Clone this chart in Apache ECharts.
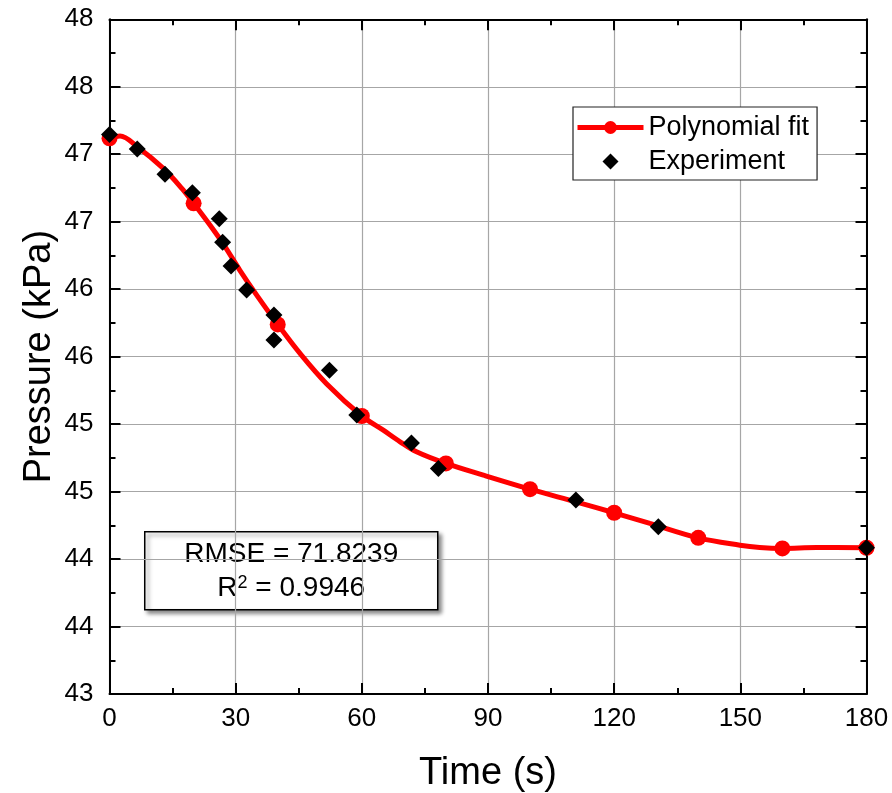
<!DOCTYPE html>
<html>
<head>
<meta charset="utf-8">
<script src="https://cdn.jsdelivr.net/npm/echarts@6/dist/echarts.min.js"></script>
<style>
html,body{margin:0;padding:0;background:#fff;}
#chart{width:892px;height:793px;}
</style>
</head>
<body>
<div id="chart"></div>
<script>
// Fitted curve (time s, pressure kPa)
var fitTimes = [0, 2.5, 6.6, 12.8, 17.2, 20, 24.7, 27.5, 31, 35, 40, 45.3, 51.6, 60, 65.1, 69.1, 73, 80, 88.9, 100, 111.1, 120, 128.5, 140, 149.9, 154.6, 160, 168.1, 180];
var fitValues = [47.118, 47.135, 47.056, 46.895, 46.747, 46.636, 46.44, 46.314, 46.14, 45.956, 45.739, 45.524, 45.30, 45.06, 44.955, 44.869, 44.795, 44.709, 44.622, 44.518, 44.422, 44.343, 44.264, 44.157, 44.103, 44.086, 44.079, 44.086, 44.084];
// Times where the fit curve shows a marker
var fitMarkerTimes = [0, 20, 40, 60, 80, 100, 120, 140, 160, 180];
// Experimental points
var expTimes = [0, 6.6, 13.2, 19.7, 26.1, 26.9, 28.9, 32.6, 39.1, 39.1, 52.3, 58.8, 71.8, 78.2, 110.9, 130.5, 180];
var expValues = [47.147, 47.039, 46.851, 46.715, 46.522, 46.347, 46.171, 45.993, 45.808, 45.623, 45.400, 45.067, 44.861, 44.672, 44.437, 44.239, 44.083];
// Axis settings
var xTicks = [0, 30, 60, 90, 120, 150, 180];
var yMin = 43, yMax = 48, yStep = 0.5;
var xTitle = 'Time (s)';
var yTitle = 'Pressure (kPa)';
var statLine1 = 'RMSE = 71.8239';
var statR2 = '0.9946';

var FONT = '"Liberation Sans", Arial, sans-serif';

var fitData = fitTimes.map(function (t, i) {
  var item = { value: [t, fitValues[i]] };
  if (fitMarkerTimes.indexOf(t) < 0) item.symbol = 'none';
  return item;
});
var expData = expTimes.map(function (t, i) { return [t, expValues[i]]; });

var chart = echarts.init(document.getElementById('chart'), null, { renderer: 'canvas' });

var axisLineStyle = { color: '#000', width: 2 };
var xStep = xTicks[1] - xTicks[0];

var option = {
  backgroundColor: '#fff',
  animation: false,
  grid: { left: 109.5, right: 25.5, top: 19.3, bottom: 99, containLabel: false, outerBoundsMode: 'none' },
  xAxis: [{
    type: 'value', min: xTicks[0], max: xTicks[xTicks.length - 1], interval: xStep,
    position: 'bottom',
    axisLine: { show: true, onZero: false, lineStyle: axisLineStyle },
    axisTick: { show: true, inside: true, length: 11, lineStyle: { color: '#000', width: 2 } },
    minorTick: { show: true, splitNumber: 2, length: 6, lineStyle: { color: '#000', width: 2 } },
    splitLine: { show: true, lineStyle: { color: '#a6a6a6', width: 1.2 } },
    axisLabel: { fontSize: 26, color: '#000', margin: 12, fontFamily: FONT },
    name: xTitle, nameLocation: 'middle', nameGap: 61, nameMoveOverlap: false,
    nameTextStyle: { fontSize: 38, color: '#000', fontFamily: FONT }
  }, {
    type: 'value', min: xTicks[0], max: xTicks[xTicks.length - 1], interval: xStep,
    position: 'top',
    axisLine: { show: true, onZero: false, lineStyle: axisLineStyle },
    axisTick: { show: true, inside: true, length: 11, lineStyle: { color: '#000', width: 2 } },
    minorTick: { show: true, splitNumber: 2, length: 6, lineStyle: { color: '#000', width: 2 } },
    splitLine: { show: false },
    axisLabel: { show: false }
  }],
  yAxis: [{
    type: 'value', min: yMin, max: yMax, interval: yStep,
    position: 'left',
    axisLine: { show: true, onZero: false, lineStyle: axisLineStyle },
    axisTick: { show: true, inside: true, length: 11, lineStyle: { color: '#000', width: 2 } },
    minorTick: { show: true, splitNumber: 2, length: 6, lineStyle: { color: '#000', width: 2 } },
    splitLine: { show: true, lineStyle: { color: '#a6a6a6', width: 1.2 } },
    axisLabel: { fontSize: 26, color: '#000', margin: 16, fontFamily: FONT,
      formatter: function (v) { return String(Math.round(v)); } },
    name: yTitle, nameLocation: 'middle', nameGap: 51, nameRotate: 90, nameMoveOverlap: false,
    nameTextStyle: { fontSize: 38, color: '#000', fontFamily: FONT }
  }, {
    type: 'value', min: yMin, max: yMax, interval: yStep,
    position: 'right',
    axisLine: { show: true, onZero: false, lineStyle: axisLineStyle },
    axisTick: { show: true, inside: true, length: 11, lineStyle: { color: '#000', width: 2 } },
    minorTick: { show: true, splitNumber: 2, length: 6, lineStyle: { color: '#000', width: 2 } },
    splitLine: { show: false },
    axisLabel: { show: false }
  }],
  legend: {
    orient: 'vertical',
    left: 573, top: 107,
    padding: [7, 8, 5, 2],
    itemGap: 7,
    itemWidth: 66, itemHeight: 16,
    symbolKeepAspect: true,
    backgroundColor: '#fff',
    borderColor: '#222', borderWidth: 1.2,
    textStyle: { fontSize: 27, color: '#000', fontFamily: FONT, padding: [0, 0, 0, 0] },
    data: [
      { name: 'Polynomial fit', lineStyle: { width: 5, color: '#ff0000' } },
      { name: 'Experiment', icon: 'path://M0,-1L1,0L0,1L-1,0Z', itemStyle: { color: '#000', opacity: 1 } }
    ]
  },
  series: [{
    name: 'Polynomial fit',
    type: 'line',
    xAxisIndex: 0, yAxisIndex: 0,
    data: fitData,
    smooth: 0.35,
    symbol: 'circle',
    symbolSize: 16,
    showAllSymbol: true,
    lineStyle: { color: '#ff0000', width: 5 },
    itemStyle: { color: '#ff0000', opacity: 1 },
    z: 2
  }, {
    name: 'Experiment',
    type: 'scatter',
    xAxisIndex: 0, yAxisIndex: 0,
    data: expData,
    symbol: 'diamond',
    symbolSize: [17, 17],
    itemStyle: { color: '#000', opacity: 1 },
    z: 3
  }],
  graphic: [{
    type: 'group',
    left: 144, top: 531,
    children: [{
      type: 'rect',
      shape: { x: 0, y: 0, width: 293, height: 78 },
      style: { fill: '#fff', stroke: '#000', lineWidth: 1.5,
        shadowBlur: 4, shadowOffsetX: 3, shadowOffsetY: 3, shadowColor: 'rgba(0,0,0,0.45)' }
    }, {
      type: 'text',
      x: 146.5, y: 23,
      style: { text: statLine1, fontSize: 28, fill: '#000', fontFamily: FONT,
        align: 'center', verticalAlign: 'middle' }
    }, {
      type: 'text',
      x: 146.5, y: 57,
      style: {
        text: '{a|R}{s|2}{a| = ' + statR2 + '}',
        align: 'center', verticalAlign: 'middle',
        rich: {
          a: { fontSize: 28, fill: '#000', color: '#000', fontFamily: FONT, lineHeight: 30 },
          s: { fontSize: 18, fill: '#000', color: '#000', fontFamily: FONT, lineHeight: 30, verticalAlign: 'top' }
        }
      }
    }]
  }]
};
chart.setOption(option);
</script>
</body>
</html>
